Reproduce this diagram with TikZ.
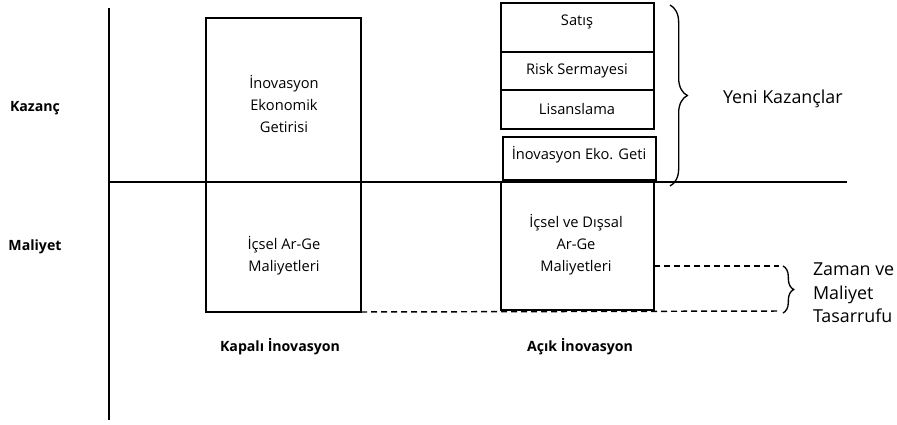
\documentclass[tikz,border=0pt]{standalone}
\usepackage{fontspec}
\setmainfont{Open Sans}
\usetikzlibrary{decorations.pathreplacing}

\begin{document}
\begin{tikzpicture}[
  x=0.75pt,
  y=-0.75pt,
  every node/.style={inner sep=0pt, outer sep=0pt},
  txt/.style={font=\fontsize{11}{16.5}\selectfont, align=center},
  sidetxt/.style={font=\fontsize{13.4}{17.6}\selectfont, align=left, anchor=west},
  axtitle/.style={font=\bfseries\fontsize{10.6}{12}\selectfont},
  box/.style={draw, line width=1.1pt, minimum width=114.75pt},
  axis/.style={draw, line width=1.1pt},
  gap/.style={draw, line width=1.1pt, dash pattern=on 4.5pt off 3pt},
  curly/.style={draw, line width=1pt, decorate, decoration={brace, amplitude=#1}}
]

  \useasboundingbox (0,0) rectangle (897,425);

  % Axes
  \coordinate (ytop) at (109,8);
  \coordinate (ybot) at (109,420);
  \coordinate (xleft) at (109,182);
  \coordinate (xright) at (847,182);
  \draw[axis] (ytop) -- (ybot);
  \draw[axis] (xleft) -- (xright);

  \node[axtitle] (gain) at (35,108) {Kazanç};
  \node[axtitle] (cost) at (35,247) {Maliyet};

  % Closed innovation
  \node[box, minimum width=116.25pt, minimum height=220.5pt] (closed) at (283.5,165) {};
  \node[txt] (closedgain) at (284,104) {İnovasyon\\Ekonomik\\Getirisi};
  \node[txt] (closedcost) at (284,256) {İçsel Ar-Ge\\Maliyetleri};
  \node[axtitle] (closedname) at (280,347) {Kapalı İnovasyon};

  % Open innovation
  \node[box, minimum height=36.75pt] (sales) at (577.5,27.5) {};
  \node[box, minimum height=28.5pt] (venture) at (577.5,71) {};
  \node[box, minimum height=29.25pt] (licence) at (577.5,109.5) {};
  \node[box, minimum height=32.25pt] (openret) at (579.5,158.5) {};
  \node[box, minimum height=96pt] (opencost) at (577.5,246) {};
  \node[txt] at (577,22) {Satış};
  \node[txt] at (577,71) {Risk Sermayesi};
  \node[txt] at (577,109) {Lisanslama};
  \node[txt] at (579,155) {İnovasyon Eko. Geti};
  \node[txt] (opencosttxt) at (576,245) {İçsel ve Dışsal\\Ar-Ge\\Maliyetleri};
  \node[axtitle] (openname) at (580,347) {Açık İnovasyon};

  % New gains
  \draw[curly=13pt] (670,5) -- (670,186);
  \node[sidetxt] (newgain) at (723,99) {Yeni Kazançlar};

  % Time and cost saving
  \coordinate (savetop) at (779,266);
  \coordinate (savebot) at (779,311);
  \draw[gap] (opencost.east |- savetop) -- (savetop);
  \draw[gap] (closed.south east) -- (savebot);
  \draw[curly=8pt] (783,266) -- (783,313);
  \node[sidetxt] (saving) at (813,293) {Zaman ve\\Maliyet\\Tasarrufu};

\end{tikzpicture}
\end{document}
